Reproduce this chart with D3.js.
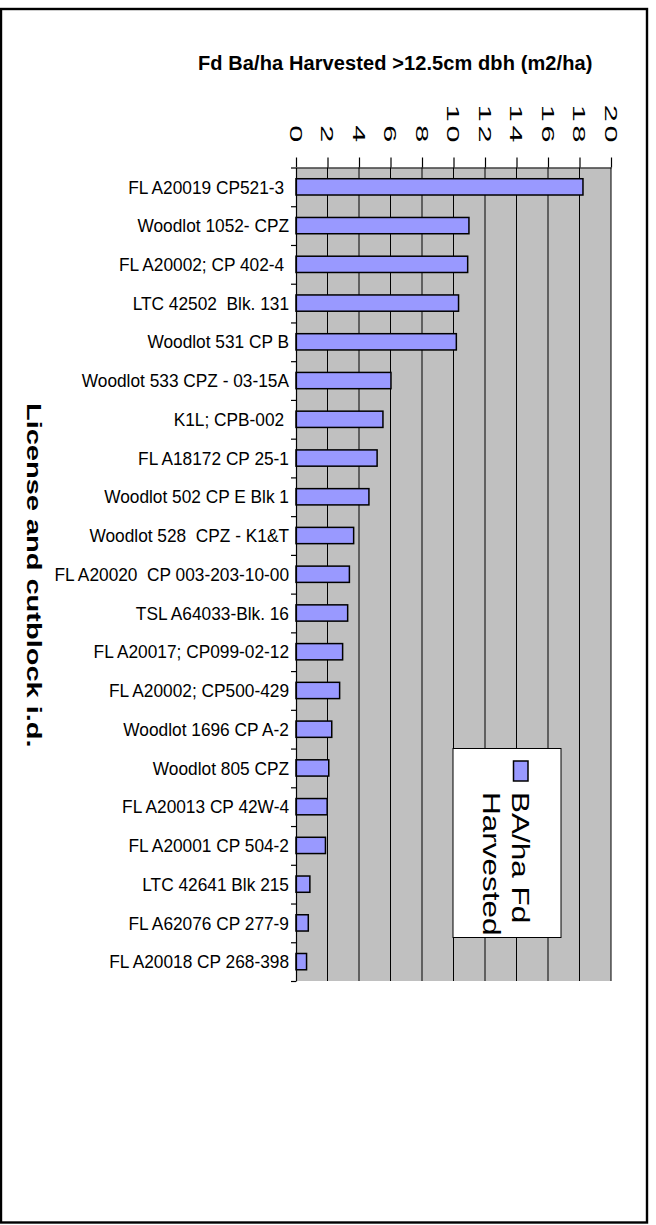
<!DOCTYPE html>
<html>
<head>
<meta charset="utf-8">
<script src="https://cdn.jsdelivr.net/npm/d3@7"></script>
<style>
    body { margin: 0; background: #fff; }
    text { font-family: "Liberation Sans", Arial, sans-serif; white-space: pre; }
</style>
</head>
<body>
<svg id="chart"></svg>
<script>
// ---- data ----
const categories = [
    "FL A20019 CP521-3 ",
    "Woodlot 1052- CPZ",
    "FL A20002; CP 402-4 ",
    "LTC 42502  Blk. 131",
    "Woodlot 531 CP B",
    "Woodlot 533 CPZ - 03-15A",
    "K1L; CPB-002 ",
    "FL A18172 CP 25-1",
    "Woodlot 502 CP E Blk 1",
    "Woodlot 528  CPZ - K1&T",
    "FL A20020  CP 003-203-10-00",
    "TSL A64033-Blk. 16",
    "FL A20017; CP099-02-12",
    "FL A20002; CP500-429",
    "Woodlot 1696 CP A-2",
    "Woodlot 805 CPZ",
    "FL A20013 CP 42W-4",
    "FL A20001 CP 504-2",
    "LTC 42641 Blk 215",
    "FL A62076 CP 277-9",
    "FL A20018 CP 268-398"
];
const baHarvested = [
    18.22, 10.98, 10.9, 10.32, 10.18, 6.03, 5.52, 5.15, 4.63, 3.66, 3.39,
    3.28, 2.96, 2.77, 2.27, 2.08, 1.98, 1.87, 0.88, 0.78, 0.67
];
const xTicks = [0, 2, 4, 6, 8, 10, 12, 14, 16, 18, 20];
const legendLines = ["BA/ha Fd", "Harvested"];
const chartTitle = "Fd Ba/ha Harvested >12.5cm dbh (m2/ha)";
const axisTitle = "License and cutblock i.d.";

class BarChart {
    plot = { left: 296, right: 611, top: 167.5, bottom: 981 }

    constructor(svg) {
        this.svg = d3.select(svg).attr("width", 656).attr("height", 1225);
    }

    draw() {
        let p = this.plot;

        // outer frame
        this.svg.append("rect")
            .attr("x", 1).attr("y", 9)
            .attr("width", 646).attr("height", 1213.5)
            .attr("fill", "none")
            .attr("stroke", "#000")
            .attr("stroke-width", 2.4);

        this.x = d3.scaleLinear().domain([0, 20]).range([p.left, p.right]);
        this.y = d3.scaleBand().domain(categories).range([p.top, p.bottom]).paddingInner(0.58).paddingOuter(0.29);
        let yEdge = d3.scaleLinear().domain([0, categories.length]).range([p.top, p.bottom]);

        // plot area
        this.svg.append("rect")
            .attr("x", p.left).attr("y", p.top)
            .attr("width", p.right - p.left).attr("height", p.bottom - p.top)
            .attr("fill", "#c0c0c0");

        // gridlines
        this.svg.append("g").selectAll("line")
            .data(xTicks.slice(1))
            .join("line")
            .attr("x1", d => this.x(d)).attr("x2", d => this.x(d))
            .attr("y1", p.top).attr("y2", p.bottom)
            .attr("stroke", "#000").attr("stroke-width", 1);

        // bars
        this.svg.append("g").selectAll("rect")
            .data(baHarvested)
            .join("rect")
            .attr("x", this.x(0))
            .attr("y", (d, i) => this.y(categories[i]))
            .attr("width", d => this.x(d) - this.x(0))
            .attr("height", this.y.bandwidth())
            .attr("fill", "#9999ff")
            .attr("stroke", "#000")
            .attr("stroke-width", 1.5);

        // value axis on top
        let xAxis = this.svg.append("g")
            .attr("transform", `translate(0, ${p.top})`)
            .call(d3.axisTop(this.x).tickValues(xTicks).tickSize(10).tickSizeOuter(0).tickFormat(""));
        xAxis.selectAll("path, line").attr("stroke", "#000").attr("stroke-width", 1.2);

        // rotated tick labels
        this.svg.append("g").selectAll("text")
            .data(xTicks)
            .join("text")
            .attr("transform", d => `translate(${this.x(d)}, 146) rotate(90) scale(1.8, 1)`)
            .attr("text-anchor", "end")
            .attr("dy", "0.36em")
            .attr("letter-spacing", 2)
            .style("font-size", "17px")
            .text(d => d);

        // category axis on the left
        let yAxis = this.svg.append("g")
            .attr("transform", `translate(${p.left}, 0)`)
            .call(d3.axisLeft(yEdge).tickValues(d3.range(categories.length + 1)).tickSize(5).tickSizeOuter(0).tickFormat(""));
        yAxis.selectAll("path, line").attr("stroke", "#000").attr("stroke-width", 1.2);

        this.svg.append("g").selectAll("text")
            .data(categories)
            .join("text")
            .attr("transform", d => `translate(289, ${this.y(d) + this.y.bandwidth() / 2}) scale(1, 1.1)`)
            .attr("text-anchor", "end")
            .attr("dy", "0.35em")
            .style("font-size", "17.3px")
            .text(d => d);

        // titles
        this.svg.append("text")
            .attr("x", 198).attr("y", 69.5)
            .attr("font-weight", "bold")
            .attr("letter-spacing", 0.1)
            .style("font-size", "20px")
            .text(chartTitle);

        this.svg.append("text")
            .attr("transform", "translate(27, 403) rotate(90) scale(1.38, 1)")
            .attr("font-weight", "bold")
            .style("font-size", "21px")
            .text(axisTitle);

        // legend
        let legend = this.svg.append("g");
        legend.append("rect")
            .attr("x", 453).attr("y", 748.5)
            .attr("width", 108).attr("height", 189)
            .attr("fill", "#fff").attr("stroke", "#000").attr("stroke-width", 1);
        legend.append("rect")
            .attr("x", 513.5).attr("y", 761)
            .attr("width", 14.5).attr("height", 20)
            .attr("fill", "#9999ff").attr("stroke", "#000").attr("stroke-width", 1.5);
        legend.append("text")
            .attr("transform", "translate(511.5, 792) rotate(90) scale(1.37, 1)")
            .style("font-size", "23px")
            .selectAll("tspan")
            .data(legendLines)
            .join("tspan")
            .attr("x", 0)
            .attr("y", (d, i) => i * 28.4)
            .text(d => d);
    }
}

let chart = new BarChart(document.getElementById("chart"));
chart.draw();
</script>
</body>
</html>
